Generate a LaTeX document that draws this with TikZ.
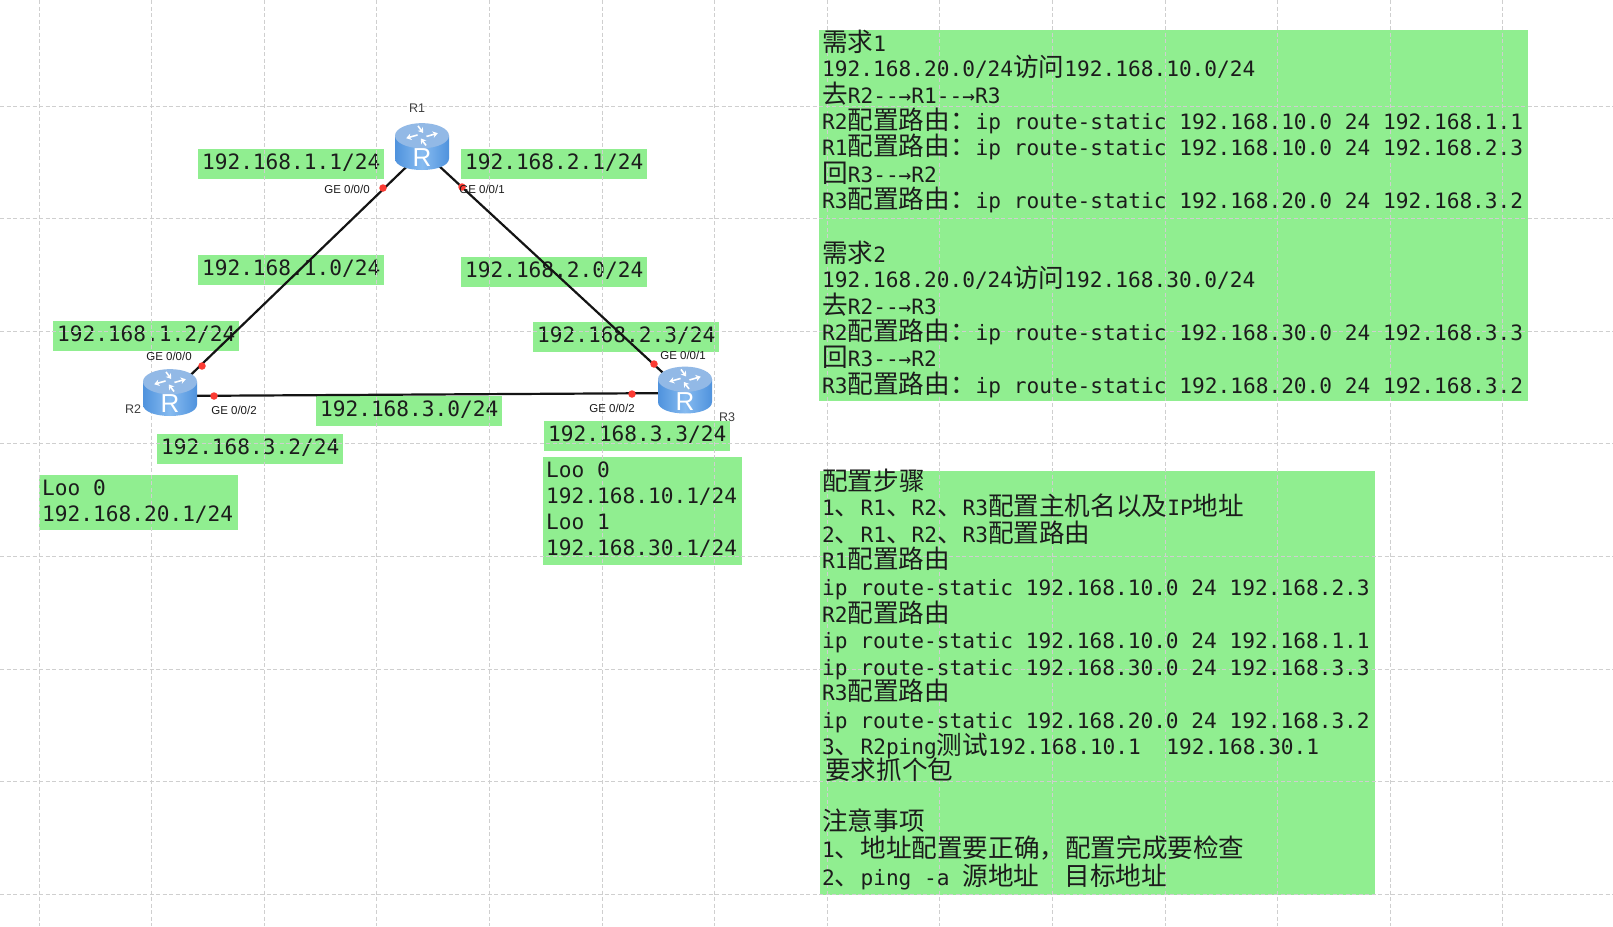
\documentclass[tikz,border=0pt]{standalone}
\usepackage{fontspec}
\setmainfont{DejaVu Sans Mono}
\newfontfamily\cjkfont{Noto Sans CJK SC}
\newfontfamily\portfont{Liberation Sans}
\usetikzlibrary{arrows.meta,calc}
\definecolor{panelgreen}{HTML}{90EE90}
\definecolor{gridgray}{HTML}{CFCFCF}
\definecolor{ink}{HTML}{1C1C1C}
\definecolor{linkblack}{HTML}{141414}
\definecolor{portred}{HTML}{FB3B33}
\definecolor{routertop}{HTML}{92B9E6}
\definecolor{routeredge}{HTML}{4F92DD}
\definecolor{routermid}{HTML}{86BBF0}
\newcommand{\cj}[1]{{\cjkfont\fontsize{25.6}{25.6}\selectfont #1}}
\tikzset{
  x=1pt, y=-1pt,
  panel/.style={fill=panelgreen, draw=none, anchor=north west, inner sep=0pt},
  ipbox/.style={fill=panelgreen, draw=none, anchor=north west, inner ysep=0pt, inner xsep=0pt,
    minimum width=186pt, text height=20pt, text depth=10pt, text=ink,
    font=\fontsize{21.15}{21.15}\selectfont},
  txt/.style={anchor=base west, inner sep=0pt, text=ink, font=\fontsize{21.15}{21.15}\selectfont},
  portlabel/.style={inner sep=0pt, text=ink, font=\portfont\fontsize{11.5}{12}\selectfont},
  routername/.style={inner sep=0pt, text=ink!85, font=\portfont\fontsize{12.5}{13}\selectfont},
  portdot/.style={circle, fill=portred, draw=none, minimum size=7.5pt, inner sep=0pt},
  link/.style={draw=linkblack, line width=2.2pt},
  gridline/.style={draw=gridgray, line width=0.9pt, dash pattern=on 4pt off 2.5pt},
  routerbody/.style={minimum width=54pt, minimum height=47pt, inner sep=0pt, draw=none},
  router/.pic={
    \path[left color=routeredge, right color=routeredge, middle color=routermid]
      (-27,-10.8) -- (-27,12)
      .. controls (-27,19) and (-15,23.5) .. (0,23.5)
      .. controls (15,23.5) and (27,19) .. (27,12)
      -- (27,-10.8) -- cycle;
    \path[fill=routertop] (0,-10.8) ellipse [x radius=27pt, y radius=12.6pt];
    % the four arrows on the lid, two pointing out and two pointing in
    \begin{scope}[shift={(0,-10.8)}, yscale=0.62]
      \foreach \a in {25,205}{
        \begin{scope}[rotate=\a]
          \draw[white, line width=1.6pt, -{Stealth[length=5pt,width=6.5pt]}] (3.5,3) -- (16,3);
        \end{scope}
      }
      \foreach \a in {115,295}{
        \begin{scope}[rotate=\a]
          \draw[white, line width=1.6pt, -{Stealth[length=5pt,width=6.5pt]}] (16,3) -- (3.5,3);
        \end{scope}
      }
    \end{scope}
    \node[inner sep=0pt, text=white, font=\portfont\fontsize{26}{26}\selectfont] at (0,11.5) {R};
  }
}
\begin{document}
\begin{tikzpicture}
\useasboundingbox[fill=white] (0,0) rectangle (1613,926);

% coloured blocks behind the notes
\node[panel, minimum width=709pt, minimum height=371pt] (need) at (819,30) {};
\node[panel, minimum width=555pt, minimum height=424pt] (steps) at (820,471) {};
\node[panel, minimum width=199pt, minimum height=55pt] (looleft) at (39,475) {};
\node[panel, minimum width=199pt, minimum height=108pt] (looright) at (543,457) {};

% address labels
\node[ipbox] (a11) at (198,149) {192.168.1.1/24};
\node[ipbox] (a10) at (198,255) {192.168.1.0/24};
\node[ipbox] (a12) at (53,321) {192.168.1.2/24};
\node[ipbox] (a21) at (461,149) {192.168.2.1/24};
\node[ipbox] (a20) at (461,257) {192.168.2.0/24};
\node[ipbox] (a23) at (533,322) {192.168.2.3/24};
\node[ipbox] (a30) at (316,396) {192.168.3.0/24};
\node[ipbox] (a32) at (157,434) {192.168.3.2/24};
\node[ipbox] (a33) at (544,421) {192.168.3.3/24};

% dashed canvas grid
\foreach \k in {0,...,13}{
  \draw[gridline] ({39+112.6*\k},0) -- ({39+112.6*\k},926);
}
\foreach \k in {0,...,7}{
  \draw[gridline] (0,{106+112.6*\k}) -- (1613,{106+112.6*\k});
}

% routers are placed first so the links can refer to them
\node[routerbody] (r1) at (422,146.5) {};
\node[routerbody] (r2) at (170,392.5) {};
\node[routerbody] (r3) at (685,390) {};

% links
\draw[link] ([xshift=5.5pt]r1.center) -- ([xshift=2.5pt]r2.center);
\draw[link] ([xshift=-4pt]r1.center) -- ([xshift=-3.5pt]r3.center);
\draw[link] ([yshift=-3.5pt]r2.center) -- ([yshift=-3pt]r3.center);

% router icons
\pic at (r1.center) {router};
\pic at (r2.center) {router};
\pic at (r3.center) {router};

% interface markers
\node[portdot] (p1a) at (383,188) {};
\node[portdot] (p1b) at (462,187) {};
\node[portdot] (p2a) at (202,366) {};
\node[portdot] (p2b) at (214,396) {};
\node[portdot] (p3a) at (654,364) {};
\node[portdot] (p3b) at (632,394) {};

% interface and router names
\node[portlabel] (g1a) at (347,189) {GE 0/0/0};
\node[portlabel] (g1b) at (482,189) {GE 0/0/1};
\node[portlabel] (g2a) at (169,356) {GE 0/0/0};
\node[portlabel] (g2b) at (234,410) {GE 0/0/2};
\node[portlabel] (g3a) at (683,355) {GE 0/0/1};
\node[portlabel] (g3b) at (612,408) {GE 0/0/2};
\node[routername] (n1) at (417,108) {R1};
\node[routername] (n2) at (133,409) {R2};
\node[routername] (n3) at (727,417) {R3};

% loopback addresses
\node[txt] (l1) at (42,495) {Loo 0};
\node[txt] (l2) at (42,521) {192.168.20.1/24};
\node[txt] (l3) at (546,477) {Loo 0};
\node[txt] (l4) at (546,503) {192.168.10.1/24};
\node[txt] (l5) at (546,529) {Loo 1};
\node[txt] (l6) at (546,555) {192.168.30.1/24};

% requirement notes
\node[txt] (t01) at (822,51) {\cj{需求}1};
\node[txt] (t02) at (822,76) {192.168.20.0/24\cj{访问}192.168.10.0/24};
\node[txt] (t03) at (822,103) {\cj{去}R2-{}-→R1-{}-→R3};
\node[txt] (t04) at (822,129) {R2\cj{配置路由：}ip route-static 192.168.10.0 24 192.168.1.1};
\node[txt] (t05) at (822,155) {R1\cj{配置路由：}ip route-static 192.168.10.0 24 192.168.2.3};
\node[txt] (t06) at (822,182) {\cj{回}R3-{}-→R2};
\node[txt] (t07) at (822,208) {R3\cj{配置路由：}ip route-static 192.168.20.0 24 192.168.3.2};
\node[txt] (t08) at (822,262) {\cj{需求}2};
\node[txt] (t09) at (822,287) {192.168.20.0/24\cj{访问}192.168.30.0/24};
\node[txt] (t10) at (822,314) {\cj{去}R2-{}-→R3};
\node[txt] (t11) at (822,340) {R2\cj{配置路由：}ip route-static 192.168.30.0 24 192.168.3.3};
\node[txt] (t12) at (822,366) {\cj{回}R3-{}-→R2};
\node[txt] (t13) at (822,393) {R3\cj{配置路由：}ip route-static 192.168.20.0 24 192.168.3.2};

% configuration steps
\node[txt] (s01) at (822,490) {\cj{配置步骤}};
\node[txt] (s02) at (822,515) {1\cj{、}R1\cj{、}R2\cj{、}R3\cj{配置主机名以及}IP\cj{地址}};
\node[txt] (s03) at (822,542) {2\cj{、}R1\cj{、}R2\cj{、}R3\cj{配置路由}};
\node[txt] (s04) at (822,568) {R1\cj{配置路由}};
\node[txt] (s05) at (822,595) {ip route-static 192.168.10.0 24 192.168.2.3};
\node[txt] (s06) at (822,622) {R2\cj{配置路由}};
\node[txt] (s07) at (822,648) {ip route-static 192.168.10.0 24 192.168.1.1};
\node[txt] (s08) at (822,675) {ip route-static 192.168.30.0 24 192.168.3.3};
\node[txt] (s09) at (822,700) {R3\cj{配置路由}};
\node[txt] (s10) at (822,728) {ip route-static 192.168.20.0 24 192.168.3.2};
\node[txt] (s11) at (822,754) {3\cj{、}R2ping\cj{测试}192.168.10.1~~192.168.30.1};
\node[txt] (s12) at (825,779) {\cj{要求抓个包}};
\node[txt] (s13) at (822,830) {\cj{注意事项}};
\node[txt] (s14) at (822,857) {1\cj{、地址配置要正确，配置完成要检查}};
\node[txt] (s15) at (822,885) {2\cj{、}ping -a \cj{源地址}~~\cj{目标地址}};
\end{tikzpicture}
\end{document}
